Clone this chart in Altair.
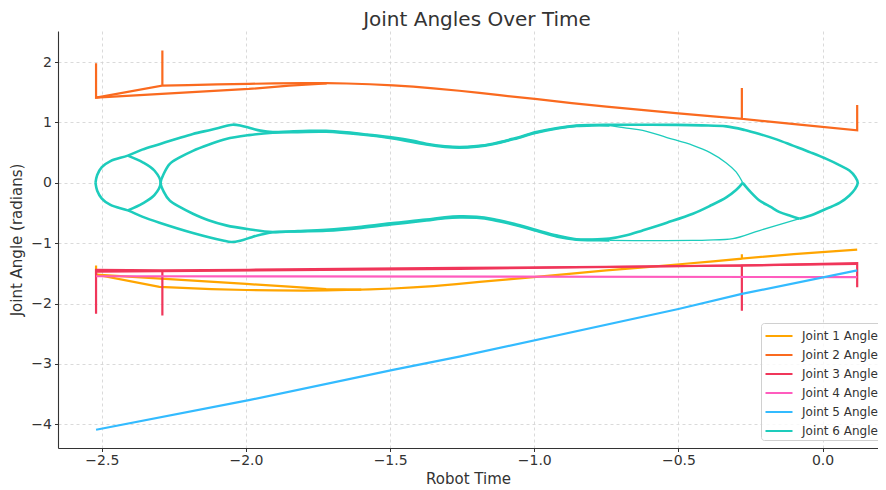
import altair as alt
import pandas as pd

JOINTS = ["Joint 1 Angle", "Joint 2 Angle", "Joint 3 Angle",
          "Joint 4 Angle", "Joint 5 Angle", "Joint 6 Angle"]
COLORS = ["#FFA500", "#FA6A1F", "#F0365A", "#FF5CBE", "#33BBFF", "#1DCCBC"]

X_TICKS = [-2.5, -2.0, -1.5, -1.0, -0.5, 0.0]
Y_TICKS = [-4, -3, -2, -1, 0, 1, 2]

# ---- Joint 1 ----
j1_fwd = [(-2.52, -1.37), (-2.52, -1.52), (-2.30, -1.725), (-2.22, -1.742), (-2.12, -1.76),
          (-1.999, -1.776), (-1.90, -1.783), (-1.80, -1.785), (-1.722, -1.782), (-1.65, -1.776),
          (-1.57, -1.765), (-1.49, -1.751), (-1.42, -1.733), (-1.35, -1.71), (-1.27, -1.677),
          (-1.19, -1.64), (-1.09, -1.598), (-0.993, -1.559), (-0.87, -1.505), (-0.75, -1.452),
          (-0.62, -1.40), (-0.496, -1.349), (-0.38, -1.30), (-0.28, -1.256), (-0.28, -1.184),
          (-0.28, -1.256), (-0.10, -1.18), (0.12, -1.107)]
j1_back = [(-1.60, -1.768), (-1.722, -1.762), (-1.85, -1.72), (-1.999, -1.675),
           (-2.52, -1.52)]

# ---- Joint 2 ----
j2_fwd = [(-2.52, 1.98), (-2.52, 1.41), (-2.29, 1.61), (-2.29, 2.19), (-2.29, 1.61),
          (-2.20, 1.62), (-2.10, 1.632), (-1.99, 1.64), (-1.90, 1.646), (-1.80, 1.65),
          (-1.72, 1.65), (-1.65, 1.645), (-1.57, 1.633), (-1.49, 1.615), (-1.42, 1.594),
          (-1.35, 1.565), (-1.26, 1.525), (-1.19, 1.49), (-1.12, 1.452), (-0.99, 1.385),
          (-0.87, 1.32), (-0.75, 1.262), (-0.62, 1.205), (-0.50, 1.15), (-0.39, 1.105),
          (-0.28, 1.06), (-0.28, 1.57), (-0.28, 1.06), (-0.08, 0.965), (0.12, 0.87),
          (0.12, 1.29)]
j2_back = [(-1.72, 1.645), (-1.85, 1.61), (-1.99, 1.555), (-2.52, 1.41)]

# ---- Joint 3 ----
j3_fwd = [(-2.52, -2.17), (-2.52, -1.44), (-2.29, -1.45), (-2.29, -2.20), (-2.29, -1.45),
          (-1.99, -1.44), (-1.26, -1.41), (-0.75, -1.39), (-0.28, -1.37), (-0.28, -2.12),
          (-0.28, -1.37), (0.12, -1.33), (0.12, -1.73)]
j3_back = [(0.12, -1.345), (-1.26, -1.425), (-2.29, -1.465), (-2.52, -1.47)]

# ---- Joint 4 ----
j4_line = [(-2.52, -1.548), (0.12, -1.562)]

# ---- Joint 5 ----
j5_line = [(-2.52, -4.09), (-1.99, -3.60), (-1.49, -3.10), (-1.26, -2.88),
           (-0.50, -2.09), (-0.28, -1.84), (0.12, -1.45)]

# ---- Joint 6 ----
j6_outer_top = [(-2.522, 0.0), (-2.516, 0.13), (-2.50, 0.26), (-2.47, 0.36), (-2.41, 0.45),
                (-2.36, 0.55), (-2.30, 0.64), (-2.24, 0.73), (-2.184, 0.81), (-2.12, 0.88),
                (-2.07, 0.94), (-2.046, 0.963), (-2.02, 0.95), (-1.98, 0.90), (-1.95, 0.865),
                (-1.907, 0.84), (-1.85, 0.85), (-1.78, 0.86), (-1.722, 0.86), (-1.65, 0.835),
                (-1.58, 0.80), (-1.49, 0.75), (-1.42, 0.695), (-1.375, 0.648), (-1.31, 0.605),
                (-1.259, 0.592), (-1.20, 0.608), (-1.144, 0.648), (-1.07, 0.735), (-0.993, 0.84),
                (-0.92, 0.908), (-0.854, 0.948), (-0.80, 0.957), (-0.739, 0.96), (-0.62, 0.962),
                (-0.508, 0.96), (-0.42, 0.952), (-0.334, 0.935), (-0.27, 0.875), (-0.219, 0.809),
                (-0.16, 0.72), (-0.103, 0.616), (-0.04, 0.50), (0.013, 0.396), (0.06, 0.29),
                (0.093, 0.203), (0.113, 0.10), (0.122, 0.0), (0.113, -0.10), (0.093, -0.21),
                (0.06, -0.33), (0.013, -0.43), (-0.03, -0.52), (-0.08, -0.595)]
j6_outer_low = [(-0.739, -0.953), (-0.80, -0.950), (-0.854, -0.943), (-0.92, -0.893),
                (-0.993, -0.795), (-1.07, -0.695), (-1.144, -0.615), (-1.20, -0.58),
                (-1.259, -0.572), (-1.31, -0.585), (-1.375, -0.625), (-1.49, -0.685),
                (-1.60, -0.748), (-1.722, -0.795), (-1.82, -0.805), (-1.907, -0.82),
                (-1.95, -0.862), (-1.98, -0.90), (-2.02, -0.96), (-2.051, -0.98),
                (-2.08, -0.955), (-2.184, -0.83), (-2.30, -0.66), (-2.36, -0.56),
                (-2.41, -0.457), (-2.47, -0.365), (-2.50, -0.26), (-2.516, -0.13),
                (-2.522, 0.0)]
j6_inner = [(-0.277, 0.0), (-0.30, -0.12), (-0.334, -0.24), (-0.39, -0.38), (-0.45, -0.512),
            (-0.54, -0.66), (-0.624, -0.788), (-0.68, -0.87), (-0.739, -0.925), (-0.80, -0.94),
            (-0.854, -0.935), (-0.92, -0.875), (-0.993, -0.782), (-1.07, -0.68), (-1.144, -0.60),
            (-1.20, -0.563), (-1.259, -0.555), (-1.31, -0.57), (-1.375, -0.61), (-1.49, -0.668),
            (-1.60, -0.728), (-1.722, -0.778), (-1.82, -0.80), (-1.907, -0.816), (-1.99, -0.77),
            (-2.069, -0.705), (-2.13, -0.62), (-2.184, -0.512), (-2.23, -0.40), (-2.265, -0.292),
            (-2.285, -0.15), (-2.296, 0.0), (-2.285, 0.15), (-2.265, 0.31), (-2.23, 0.42),
            (-2.184, 0.53), (-2.13, 0.63), (-2.069, 0.727), (-1.99, 0.79), (-1.907, 0.83),
            (-1.82, 0.84), (-1.722, 0.845), (-1.60, 0.80), (-1.49, 0.735), (-1.375, 0.635),
            (-1.31, 0.595), (-1.259, 0.582), (-1.20, 0.60), (-1.144, 0.64), (-1.07, 0.725),
            (-0.993, 0.83), (-0.92, 0.90), (-0.854, 0.94), (-0.80, 0.952), (-0.739, 0.952)]
j6_lens = [(-2.41, 0.45), (-2.358, 0.34), (-2.317, 0.20), (-2.296, 0.0), (-2.317, -0.20),
           (-2.358, -0.34), (-2.41, -0.457)]
j6_right_arc = [(-0.277, 0.0), (-0.25, -0.15), (-0.219, -0.292), (-0.18, -0.40),
                (-0.149, -0.486), (-0.11, -0.55), (-0.08, -0.595)]
j6_thin_top = [(-0.739, 0.952), (-0.68, 0.905), (-0.624, 0.87), (-0.54, 0.75),
               (-0.45, 0.62), (-0.39, 0.50), (-0.334, 0.33), (-0.30, 0.18), (-0.277, 0.0)]
j6_thin_low = [(-0.08, -0.595), (-0.219, -0.79), (-0.311, -0.925), (-0.40, -0.948),
               (-0.45, -0.953), (-0.60, -0.957), (-0.739, -0.953)]

SEGMENTS = [
    ("Joint 1 Angle", "j1_fwd", j1_fwd), ("Joint 1 Angle", "j1_back", j1_back),
    ("Joint 2 Angle", "j2_fwd", j2_fwd), ("Joint 2 Angle", "j2_back", j2_back),
    ("Joint 3 Angle", "j3_fwd", j3_fwd), ("Joint 3 Angle", "j3_back", j3_back),
    ("Joint 4 Angle", "j4_line", j4_line),
    ("Joint 5 Angle", "j5_line", j5_line),
    ("Joint 6 Angle", "j6_outer_top", j6_outer_top),
    ("Joint 6 Angle", "j6_outer_low", j6_outer_low),
    ("Joint 6 Angle", "j6_inner", j6_inner),
    ("Joint 6 Angle", "j6_lens", j6_lens),
    ("Joint 6 Angle", "j6_right_arc", j6_right_arc),
    ("Joint 6 Angle", "j6_thin_top", j6_thin_top),
    ("Joint 6 Angle", "j6_thin_low", j6_thin_low),
]

rows = []
for joint, seg, pts in SEGMENTS:
    for i, (xv, yv) in enumerate(pts):
        rows.append({"joint": joint, "seg": seg, "i": i, "x": xv, "y": yv})
df = pd.DataFrame(rows)

FONT = "DejaVu Sans"
TXT = "#333333"

x_enc = alt.X("x:Q",
              scale=alt.Scale(domain=[-2.652, 0.1922], nice=False, zero=False),
              axis=alt.Axis(values=X_TICKS, format=".1f", title="Robot Time"))
y_enc = alt.Y("y:Q",
              scale=alt.Scale(domain=[-4.393, 2.515], nice=False, zero=False),
              axis=alt.Axis(values=Y_TICKS, format="d", title="Joint Angle (radians)"))
c_enc = alt.Color("joint:N",
                  scale=alt.Scale(domain=JOINTS, range=COLORS),
                  legend=alt.Legend(title=None, orient="none", legendX=703, legendY=292,
                                    symbolType="M-1.5,0L1.5,0", symbolSize=324,
                                    symbolStrokeWidth=2, symbolOffset=5,
                                    labelFont=FONT, labelFontSize=12, labelColor=TXT,
                                    labelOffset=13, rowPadding=3, padding=3,
                                    fillColor="rgba(255,255,255,0.8)",
                                    strokeColor="#d0d0d0", cornerRadius=3))

base = alt.Chart(df).encode(x=x_enc, y=y_enc, color=c_enc,
                            detail="seg:N", order=alt.Order("i:Q"))

THIN_TEST = "(datum.seg == 'j6_thin_top' || datum.seg == 'j6_thin_low')"

layers = []
for j in JOINTS[:5]:
    layers.append(base.transform_filter(f"datum.joint == '{j}'")
                  .mark_line(strokeWidth=2.2))
layers.append(base.transform_filter(f"datum.joint == 'Joint 6 Angle' && !{THIN_TEST}")
              .mark_line(strokeWidth=2.6, interpolate="catmull-rom"))
layers.append(base.transform_filter(THIN_TEST)
              .mark_line(strokeWidth=1.3, interpolate="catmull-rom"))

chart = (alt.layer(*layers)
         .properties(width=820, height=417,
                     title=alt.TitleParams("Joint Angles Over Time", fontSize=20, font=FONT,
                                           fontWeight="normal", color=TXT, anchor="middle",
                                           dx=9, offset=1),
                     padding={"left": 50, "top": 23, "right": 0, "bottom": 38},
                     autosize=alt.AutoSizeParams(type="none"))
         .configure_view(stroke=None)
         .configure_axis(labelFont=FONT, labelFontSize=14, labelColor=TXT,
                         titleFont=FONT, titleFontSize=15, titleFontWeight="normal",
                         titleColor=TXT, domainColor="#333333", domainWidth=1.1,
                         tickColor="#333333", tickSize=3.5, tickWidth=1,
                         gridColor="#d0d0d0", gridDash=[3, 3], gridWidth=0.8,
                         labelPadding=1.5)
         .configure_axisX(titlePadding=4)
         .configure_axisY(titlePadding=6, labelPadding=3))

chart.save("out.html", embed_options={"renderer": "svg", "actions": False})
